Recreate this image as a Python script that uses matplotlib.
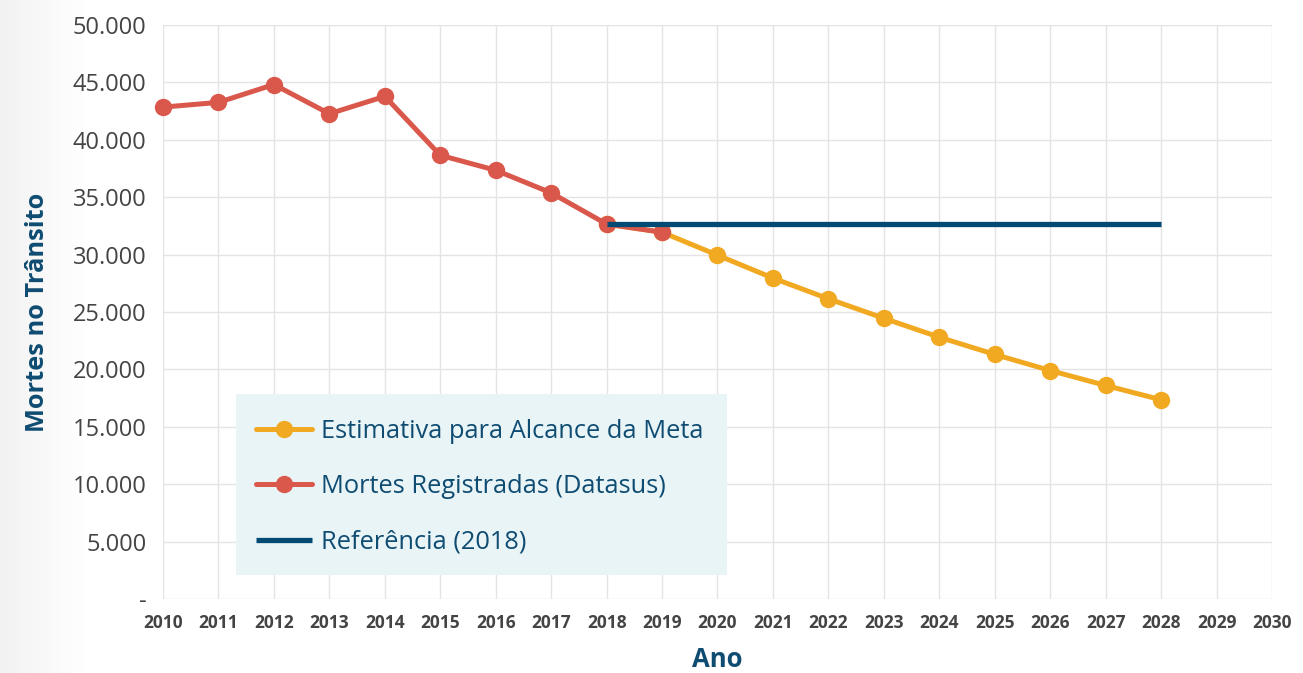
import matplotlib
matplotlib.use("Agg")
import matplotlib.pyplot as plt
import numpy as np
from matplotlib.patches import Rectangle
from matplotlib.ticker import FuncFormatter, MultipleLocator

plt.rcParams["font.family"] = ["Open Sans", "DejaVu Sans"]

# data
years_reg = [2010, 2011, 2012, 2013, 2014, 2015, 2016, 2017, 2018, 2019]
mortes_reg = [42844, 43256, 44812, 42266, 43780, 38651, 37345, 35375, 32655, 31945]

years_meta = [2018, 2019, 2020, 2021, 2022, 2023, 2024, 2025, 2026, 2027, 2028]
mortes_meta = [32655, 31945, 29950, 27950, 26150, 24450, 22800, 21300, 19900, 18600, 17350]

years_ref = [2018, 2028]
mortes_ref = [32655, 32655]

yellow = "#f2a922"
red = "#da584b"
blue = "#004a74"
text_blue = "#0f4c72"
grid_c = "#e4e4e4"

fig = plt.figure(figsize=(13.03, 6.73), dpi=100)

# light gray strip on the left edge
bg = fig.add_axes([0, 0, 0.065, 1], zorder=-5)
grad = np.linspace(0, 1, 100).reshape(1, -1)
bg.imshow(grad, aspect="auto", cmap=matplotlib.colors.LinearSegmentedColormap.from_list("g", ["#f2f2f2", "#ffffff"]),
          extent=[0, 1, 0, 1])
bg.axis("off")

ax = fig.add_axes([0.1251, 0.1100, 0.8511, 0.8529])
ax.set_facecolor("none")

ax.plot(years_meta, mortes_meta, color=yellow, lw=3.6, marker="o", ms=11.5,
        label="Estimativa para Alcance da Meta", zorder=3, clip_on=False,
        solid_capstyle="round")
ax.plot(years_reg, mortes_reg, color=red, lw=3.6, marker="o", ms=11.5,
        label="Mortes Registradas (Datasus)", zorder=4, clip_on=False,
        solid_capstyle="round")
ax.plot(years_ref, mortes_ref, color=blue, lw=3.8, label="Referência (2018)",
        zorder=5, solid_capstyle="butt")

ax.set_xlim(2010, 2030)
ax.set_ylim(0, 50000)
ax.xaxis.set_major_locator(MultipleLocator(1))
ax.yaxis.set_major_locator(MultipleLocator(5000))


def fmt_y(v, pos):
    if v == 0:
        return "-"
    return f"{int(v):,}".replace(",", ".")


ax.yaxis.set_major_formatter(FuncFormatter(fmt_y))
ax.grid(True, color=grid_c, lw=1)
ax.set_axisbelow(True)
for s in ax.spines.values():
    s.set_visible(False)
ax.tick_params(axis="both", length=0)
ax.tick_params(axis="y", labelsize=17, labelcolor="#444444", pad=12)
ax.tick_params(axis="x", labelsize=12.5, labelcolor="#444444", pad=11)
for lb in ax.get_xticklabels():
    lb.set_fontweight("bold")

ax.set_ylabel("Mortes no Trânsito", fontsize=18.3, fontweight="bold", color=text_blue, labelpad=16)
ax.set_xlabel("Ano", fontsize=18.5, fontweight="bold", color=text_blue, labelpad=10)

# legend box
ax.add_patch(Rectangle((0.0658, 0.0418), 0.4427, 0.3153, transform=ax.transAxes,
                       facecolor="#e9f4f7", edgecolor="none", zorder=6))
leg = ax.legend(loc="upper left", bbox_to_anchor=(0.0839, 0.314), borderaxespad=0,
                borderpad=0, fontsize=18.3, frameon=False, labelcolor=text_blue,
                handlelength=2.2, handletextpad=0.35, labelspacing=1.2)
leg.set_zorder(7)

fig.savefig("out.png", dpi=100)
